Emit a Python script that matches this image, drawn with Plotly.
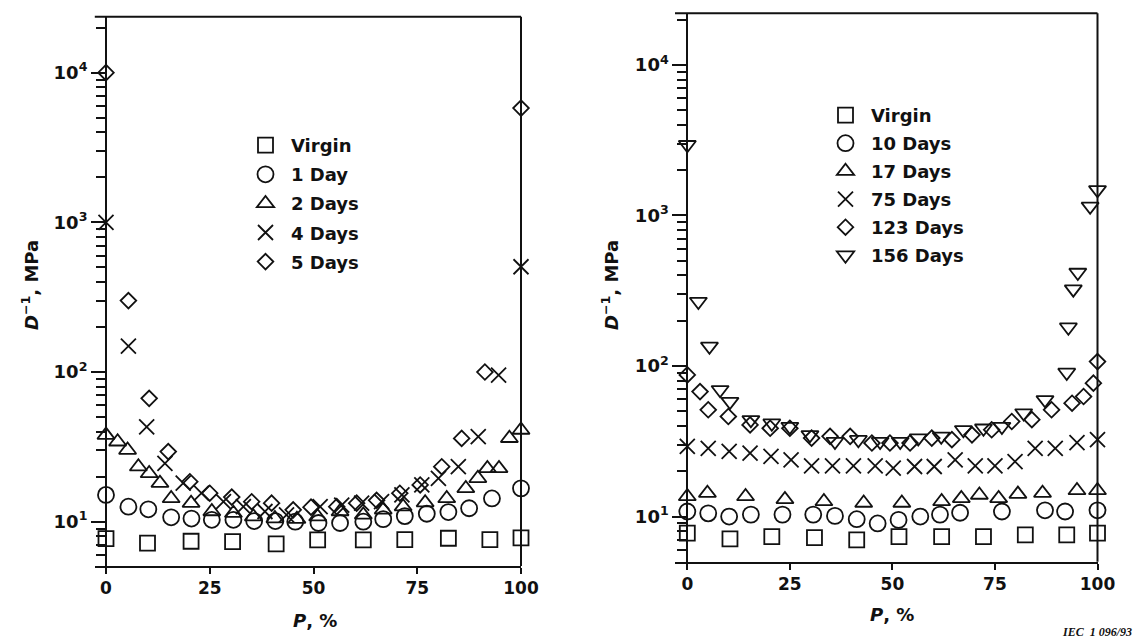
import plotly.graph_objects as go

# ---------------- data ----------------
L_virgin_x = [0, 10, 20.5, 30.5, 41, 51, 62, 72, 82.5, 92.5, 100]
L_virgin_y = [7.7, 7.2, 7.4, 7.35, 7.1, 7.55, 7.55, 7.6, 7.75, 7.6, 7.8]

L_1day_x = [0, 5.4, 10.2, 15.7, 20.6, 25.5, 30.7, 35.7, 40.8, 45.6, 51.2, 56.4, 62, 66.8, 72, 77.3, 82.5, 87.5, 93, 100]
L_1day_y = [15.1, 12.6, 12.1, 10.7, 10.5, 10.3, 10.3, 10.1, 10.1, 10.0, 9.8, 9.8, 10.0, 10.4, 10.9, 11.3, 11.6, 12.3, 14.3, 16.7]

L_2days_x = [0, 2.8, 5.2, 7.8, 10.4, 13, 15.7, 20.5, 25.5, 30.7, 35.5, 40.7, 46, 51, 56.4, 62, 66.8, 71.6, 76.9, 82.1, 86.7, 89.6, 91.9, 94.7, 97.2, 100]
L_2days_y = [37.9, 34.2, 30.1, 23.3, 21.0, 18.1, 14.3, 13.3, 11.7, 11.4, 10.8, 10.5, 10.4, 10.8, 11.7, 11.1, 12.0, 12.6, 13.4, 14.3, 16.7, 19.5, 22.7, 22.7, 36.1, 41.0]

L_4days_x = [0, 5.4, 9.8, 14.2, 18.6, 23, 28.3, 33.1, 38.3, 43.5, 51.6, 56.8, 61.6, 66.4, 71.3, 76.1, 80.1, 84.9, 89.7, 94.6, 100]
L_4days_y = [1000, 149, 43, 24.5, 18.1, 15.5, 13.6, 12.6, 11.7, 11.1, 12.6, 12.9, 13.3, 13.6, 15.1, 17.6, 19.5, 23.3, 37, 95.5, 505]

L_5days_x = [0, 5.4, 10.4, 15, 20.2, 25, 30.3, 35.1, 39.9, 45.1, 49.4, 55.6, 60.4, 65.2, 70.8, 75.7, 80.9, 85.7, 91.3, 100]
L_5days_y = [10000, 300, 66.7, 29.4, 18.5, 15.5, 14.6, 13.6, 13.3, 12.0, 12.5, 12.6, 13.3, 13.9, 15.5, 17.6, 23.3, 36, 100, 5800]

R_virgin_x = [0, 10.4, 20.6, 31, 41.3, 51.6, 62, 72.2, 82.4, 92.5, 100]
R_virgin_y = [7.76, 7.1, 7.36, 7.25, 7.0, 7.36, 7.36, 7.36, 7.55, 7.55, 7.75]

R_10days_x = [0, 5.1, 10.2, 15.5, 23.2, 30.7, 36, 41.3, 46.4, 51.5, 56.8, 61.6, 66.5, 76.7, 87.2, 92.1, 100]
R_10days_y = [10.8, 10.5, 10.0, 10.3, 10.3, 10.3, 10.1, 9.6, 9.0, 9.5, 10.0, 10.3, 10.6, 10.8, 11.0, 10.8, 11.0]

R_17days_x = [0, 4.9, 14.2, 23.8, 33.3, 43, 52.3, 62, 66.8, 71.2, 75.9, 80.6, 86.6, 95, 100]
R_17days_y = [13.6, 14.3, 13.6, 13.0, 12.6, 12.3, 12.3, 12.6, 13.2, 13.9, 13.2, 14.1, 14.3, 14.9, 14.9]

R_75days_x = [0, 5.1, 10.2, 15.3, 20.4, 25.3, 30.3, 35.4, 40.5, 45.8, 50.2, 55.4, 60.2, 65.3, 70.2, 75, 79.9, 84.8, 89.7, 95, 100]
R_75days_y = [29.2, 28.4, 27.1, 26.4, 25.1, 23.8, 21.7, 21.7, 21.7, 21.7, 21.0, 21.5, 21.5, 23.8, 21.7, 21.7, 23.2, 28.4, 28.4, 31, 32.4]

R_123days_x = [0, 3.1, 5.1, 10, 15.3, 20.2, 25, 30.3, 34.8, 39.7, 45, 49.4, 54.3, 59.6, 64.5, 69.4, 74.2, 79.1, 84, 88.8, 93.8, 96.6, 99, 100]
R_123days_y = [87.3, 67.6, 51.2, 46.2, 40.6, 38.6, 38.6, 33.2, 34.1, 34.1, 30.8, 30.8, 30.8, 33.2, 32.4, 34.9, 37.7, 42.8, 44, 51.2, 56.6, 62.7, 76.9, 107]

R_156days_x = [0, 2.7, 5.4, 8, 10.4, 15.5, 20.6, 25, 29.9, 36, 41.7, 47, 51.9, 56.3, 61.9, 67.3, 72.2, 76.7, 82, 87.2, 92.5, 92.9, 94.1, 95.2, 98.2, 100]
R_156days_y = [2950, 268, 135, 69.5, 58, 43.9, 41.7, 39.6, 34.9, 31.5, 32.4, 31.5, 31.5, 33.2, 34.1, 37.7, 38.6, 39.6, 48.7, 59.6, 90.6, 181, 324, 418, 1150, 1480]

x_ticks = [0, 25, 50, 75, 100]
x_ticktext = ["0", "25", "50", "75", "100"]
y_ticks = [10, 100, 1000, 10000]
y_ticktext = ["10<sup>1</sup>", "10<sup>2</sup>", "10<sup>3</sup>", "10<sup>4</sup>"]
y_minor = [6, 7, 8, 9, 20, 30, 40, 50, 60, 70, 80, 90, 200, 300, 400, 500, 600, 700, 800, 900,
           2000, 3000, 4000, 5000, 6000, 7000, 8000, 9000, 20000]

left_series = [
    ("Virgin", L_virgin_x, L_virgin_y, "square-open"),
    ("1 Day", L_1day_x, L_1day_y, "circle-open"),
    ("2 Days", L_2days_x, L_2days_y, "triangle-up-open"),
    ("4 Days", L_4days_x, L_4days_y, "x-thin-open"),
    ("5 Days", L_5days_x, L_5days_y, "diamond-open"),
]
right_series = [
    ("Virgin", R_virgin_x, R_virgin_y, "square-open"),
    ("10 Days", R_10days_x, R_10days_y, "circle-open"),
    ("17 Days", R_17days_x, R_17days_y, "triangle-up-open"),
    ("75 Days", R_75days_x, R_75days_y, "x-thin-open"),
    ("123 Days", R_123days_x, R_123days_y, "diamond-open"),
    ("156 Days", R_156days_x, R_156days_y, "triangle-down-open"),
]

# ---------------- styling ----------------
W, H = 1142, 642
OFF = 8  # the page places the figure 8 px from the window's top-left corner
FONT = "DejaVu Sans, Liberation Sans, Arial, sans-serif"
INK = "#111111"
SIZES = {"square-open": 15, "circle-open": 16, "triangle-up-open": 15,
         "x-thin-open": 15, "diamond-open": 12, "triangle-down-open": 15}

def fx(p):
    return (p - OFF) / W

def fy(p):
    return (H - (p - OFF)) / H

fig = go.Figure()

for i, (name, xs, ys, sym) in enumerate(left_series):
    fig.add_trace(go.Scatter(
        x=xs, y=ys, mode="markers", name=name, xaxis="x", yaxis="y",
        legend="legend", legendgroup="L%d" % i, cliponaxis=False,
        marker=dict(symbol=sym, size=SIZES[sym], color=INK,
                    line=dict(width=1.8, color=INK))))

for i, (name, xs, ys, sym) in enumerate(right_series):
    fig.add_trace(go.Scatter(
        x=xs, y=ys, mode="markers", name=name, xaxis="x2", yaxis="y2",
        legend="legend2", legendgroup="R%d" % i, cliponaxis=False,
        marker=dict(symbol=sym, size=SIZES[sym], color=INK,
                    line=dict(width=1.8, color=INK))))

xtickfont = dict(family=FONT, size=17, color=INK, weight="bold")
ytickfont = dict(family=FONT, size=18, color=INK, weight="bold")

def xaxis_cfg(dom, rng, anchor):
    return dict(domain=dom, range=rng, anchor=anchor, showline=True, linewidth=2,
                linecolor=INK, ticks="outside", ticklen=6, tickwidth=2, tickcolor=INK,
                tickvals=x_ticks, ticktext=x_ticktext, tickfont=xtickfont,
                showgrid=False, zeroline=False, automargin=False)

def yaxis_cfg(dom, rng, pos):
    return dict(domain=dom, range=rng, type="log", anchor="free", position=pos,
                showline=True, linewidth=2, linecolor=INK, ticks="outside",
                ticklen=14, tickwidth=2, tickcolor=INK,
                tickvals=y_ticks, ticktext=y_ticktext, tickfont=ytickfont,
                showgrid=False, zeroline=False, automargin=False,
                minor=dict(tickvals=y_minor, ticks="outside", ticklen=9,
                           tickwidth=1.6, tickcolor=INK, showgrid=False))

legend_font = dict(family=FONT, size=18, color=INK, weight="bold")

fig.update_layout(
    width=W, height=H, margin=dict(l=0, r=0, t=0, b=0, autoexpand=False),
    paper_bgcolor="white", plot_bgcolor="white",
    font=dict(family=FONT, color=INK),
    xaxis=xaxis_cfg([fx(94.8), fx(521)], [-2.7, 100], "y"),
    yaxis=yaxis_cfg([fy(566), fy(16.7)], [0.704, 4.374], fx(106)),
    xaxis2=xaxis_cfg([fx(675), fx(1097.5)], [-3.0, 100], "y2"),
    yaxis2=yaxis_cfg([fy(561.7), fy(13.3)], [0.70, 4.343], fx(687.3)),
    legend=dict(x=fx(240), y=fy(127), xanchor="left", yanchor="top",
                bgcolor="rgba(0,0,0,0)", itemwidth=41, tracegroupgap=2.7,
                font=legend_font),
    legend2=dict(x=fx(820), y=fy(97), xanchor="left", yanchor="top",
                 bgcolor="rgba(0,0,0,0)", itemwidth=41, tracegroupgap=1.6,
                 font=legend_font),
)

# frame: top and right lines
for xa, ya in (("x", "y"), ("x2", "y2")):
    fig.add_shape(type="line", xref=xa + " domain", yref=ya + " domain",
                  x0=0, x1=1, y0=1, y1=1, line=dict(color=INK, width=2))
    fig.add_shape(type="line", xref=xa + " domain", yref=ya + " domain",
                  x0=1, x1=1, y0=0, y1=1, line=dict(color=INK, width=2))

title_font = dict(family=FONT, size=18, color=INK, weight="bold")
for tx, ty in ((30, 285), (610, 285)):
    fig.add_annotation(text="<i>D</i><sup>−1</sup>, MPa", xref="paper", yref="paper",
                       x=fx(tx), y=fy(ty), xanchor="center", yanchor="middle",
                       textangle=-90, showarrow=False, font=title_font)
for tx, ty in ((315, 620), (892, 614)):
    fig.add_annotation(text="<i>P</i>, %", xref="paper", yref="paper",
                       x=fx(tx), y=fy(ty), xanchor="center", yanchor="middle",
                       showarrow=False, font=title_font)
fig.add_annotation(text="<i>IEC  1 096/93</i>", xref="paper", yref="paper",
                   x=fx(1134), y=fy(632), xanchor="right", yanchor="middle",
                   showarrow=False,
                   font=dict(family="Liberation Serif, Times New Roman, serif", size=12,
                             color=INK, weight="bold"))

fig.write_html("out.html")
